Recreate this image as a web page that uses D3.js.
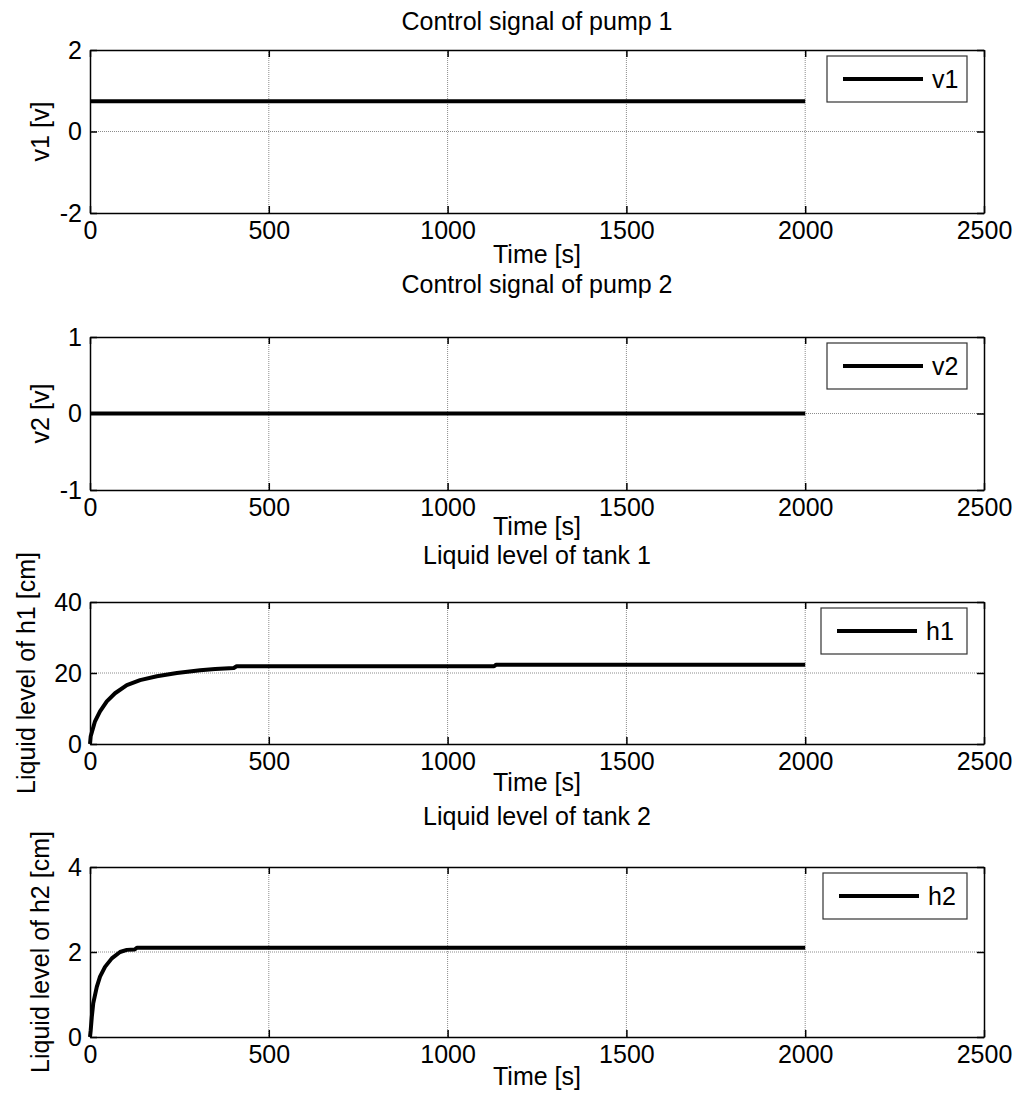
<!DOCTYPE html>
<html>
<head>
<meta charset="utf-8">
<script src="https://cdn.jsdelivr.net/npm/d3@7"></script>
<style>
  html, body { margin: 0; padding: 0; background: #fff; }
  svg { display: block; }
  text { font-family: "Liberation Sans", Arial, sans-serif; fill: #000; }
</style>
</head>
<body>
<svg id="chart" width="1023" height="1112"></svg>
<script>
// ---- data ----
const xTicks = [0, 500, 1000, 1500, 2000, 2500];

const v1Time = [0, 2000];
const v1Values = [0.74, 0.74];

const v2Time = [0, 2000];
const v2Values = [0, 0];

const h1Time = [0, 2, 14, 28, 47, 70, 103, 140, 187, 243, 308, 350, 402, 410, 700, 1130, 1135, 2000];
const h1Values = [0, 2.2, 6.4, 9.2, 12, 14.3, 16.6, 18, 19.1, 20, 20.8, 21.1, 21.4, 21.9, 21.9, 21.9, 22.3, 22.3];

const h2Time = [0, 2, 5, 9, 19, 28, 42, 61, 84, 103, 125, 131, 2000];
const h2Values = [0, 0.16, 0.47, 0.79, 1.18, 1.42, 1.65, 1.85, 2.0, 2.05, 2.06, 2.1, 2.1];

const titles = ["Control signal of pump 1", "Control signal of pump 2", "Liquid level of tank 1", "Liquid level of tank 2"];
const yLabels = ["v1 [v]", "v2 [v]", "Liquid level of h1 [cm]", "Liquid level of h2 [cm]"];
const legendNames = ["v1", "v2", "h1", "h2"];
const yDomains = [[-2, 2], [-1, 1], [0, 40], [0, 4]];
const yTicks = [[-2, 0, 2], [-1, 0, 1], [0, 20, 40], [0, 2, 4]];
const xLabel = "Time [s]";

// ---- layout ----
const panels = [
  { top: 50,  bottom: 213, titleY: 30,  xlabY: 263, ylabX: 40, legX: 827, time: v1Time, values: v1Values },
  { top: 337, bottom: 490, titleY: 293, xlabY: 535, ylabX: 40, legX: 827, time: v2Time, values: v2Values },
  { top: 602, bottom: 744, titleY: 564, xlabY: 791, ylabX: 26, legX: 821, time: h1Time, values: h1Values },
  { top: 867, bottom: 1037, titleY: 825, xlabY: 1085, ylabX: 40, legX: 823, time: h2Time, values: h2Values }
];
const left = 90, right = 984;
const fs = 25;
const svg = d3.select("#chart");

const x = d3.scaleLinear().domain([0, 2500]).range([left, right]);
const fmt = d => String(d);

panels.forEach((p, i) => {
  const y = d3.scaleLinear().domain(yDomains[i]).range([p.bottom, p.top]);
  const g = svg.append("g");

  // grid
  g.selectAll(".gx").data(xTicks.slice(1, -1)).join("line")
    .attr("x1", d => x(d)).attr("x2", d => x(d))
    .attr("y1", p.top).attr("y2", p.bottom)
    .attr("stroke", "#8c8c8c").attr("stroke-width", 1).attr("stroke-dasharray", "1,1");
  g.selectAll(".gy").data(yTicks[i].slice(1, -1)).join("line")
    .attr("x1", left).attr("x2", right)
    .attr("y1", d => y(d)).attr("y2", d => y(d))
    .attr("stroke", "#8c8c8c").attr("stroke-width", 1).attr("stroke-dasharray", "1,1");

  // axes via d3 axis (ticks inward)
  const tl = 7;
  const axB = d3.axisBottom(x).tickValues(xTicks).tickSizeInner(-tl).tickSizeOuter(0).tickPadding(8).tickFormat(fmt);
  const axT = d3.axisTop(x).tickValues(xTicks).tickSizeInner(-tl).tickSizeOuter(0).tickFormat("");
  const axL = d3.axisLeft(y).tickValues(yTicks[i]).tickSizeInner(-tl).tickSizeOuter(0).tickPadding(8).tickFormat(fmt);
  const axR = d3.axisRight(y).tickValues(yTicks[i]).tickSizeInner(-tl).tickSizeOuter(0).tickFormat("");

  const styleAx = sel => {
    sel.select(".domain").attr("stroke", "#000").attr("stroke-width", 1.5);
    sel.selectAll(".tick line").attr("stroke", "#000").attr("stroke-width", 1.5);
    sel.selectAll(".tick text").attr("font-size", fs).attr("font-family", "Liberation Sans, Arial, sans-serif").attr("fill", "#000");
  };
  g.append("g").attr("transform", `translate(0,${p.bottom})`).call(axB).call(styleAx);
  g.append("g").attr("transform", `translate(0,${p.top})`).call(axT).call(styleAx);
  g.append("g").attr("transform", `translate(${left},0)`).call(axL).call(styleAx);
  g.append("g").attr("transform", `translate(${right},0)`).call(axR).call(styleAx);

  // data line
  const pts = p.time.map((t, k) => [t, p.values[k]]);
  g.append("path").datum(pts)
    .attr("d", d3.line().x(d => x(d[0])).y(d => y(d[1])))
    .attr("fill", "none").attr("stroke", "#000").attr("stroke-width", 4).attr("stroke-linejoin", "round");

  // title
  g.append("text").attr("x", (left + right) / 2).attr("y", p.titleY)
    .attr("text-anchor", "middle").attr("font-size", fs).text(titles[i]);

  // x label
  g.append("text").attr("x", (left + right) / 2).attr("y", p.xlabY)
    .attr("text-anchor", "middle").attr("font-size", fs).text(xLabel);

  // y label
  g.append("text")
    .attr("transform", `translate(${p.ylabX},${(p.top + p.bottom) / 2}) rotate(-90)`)
    .attr("text-anchor", "middle").attr("dominant-baseline", "central")
    .attr("font-size", fs).text(yLabels[i]);

  // legend
  const lw = 967 - p.legX, lh = 46;
  const lx = p.legX, ly = p.top + 6;
  const lg = g.append("g");
  lg.append("rect").attr("x", lx).attr("y", ly).attr("width", lw).attr("height", lh)
    .attr("fill", "#fff").attr("stroke", "#333").attr("stroke-width", 1.2);
  lg.append("line").attr("x1", lx + 16).attr("x2", lx + 96)
    .attr("y1", ly + lh / 2).attr("y2", ly + lh / 2)
    .attr("stroke", "#000").attr("stroke-width", 4);
  lg.append("text").attr("x", lx + 105).attr("y", ly + lh / 2)
    .attr("dominant-baseline", "central").attr("font-size", fs).text(legendNames[i]);
});
</script>
</body>
</html>
